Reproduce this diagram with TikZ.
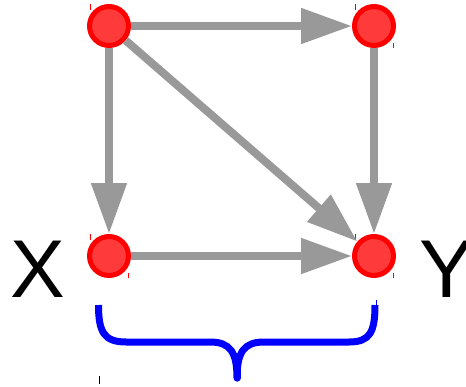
\documentclass[tikz,border=0pt]{standalone}
\usepackage{fontspec}
\setmainfont{Liberation Sans}
\usetikzlibrary{arrows.meta}
\definecolor{nodered}{RGB}{255,0,0}
\definecolor{nodefill}{RGB}{255,58,58}
\definecolor{edgegray}{RGB}{153,153,153}
\definecolor{braceblue}{RGB}{0,0,255}
\begin{document}
\begin{tikzpicture}[x=1pt,y=-1pt,
  vertex/.style={circle,draw=nodered,fill=nodefill,line width=5pt,
    minimum size=39pt,inner sep=0pt},
  edge/.style={draw=edgegray,line width=8pt,
    -{Triangle[length=51pt,width=34pt]}},
  letter/.style={font=\fontsize{82}{82}\selectfont,inner sep=0pt,anchor=base},
  hairline/.style={line width=1pt}]
\useasboundingbox (0,0) rectangle (466,386);

% vertices
\node[vertex] (tl) at (109,26) {};
\node[vertex] (tr) at (374,26) {};
\node[vertex] (bl) at (109,256) {};
\node[vertex] (br) at (374,256) {};

% small corner marks beside each vertex
\foreach \v in {tl,tr,bl,br}{
  \draw[nodered,hairline] ([shift={(-18.5,-22)}]\v.center) -- ++(0,6);
  \draw[nodered,hairline] ([shift={(19,17)}]\v.center) -- ++(0,5);
}

% directed edges
\draw[edge] (tl) -- (tr);
\draw[edge] (tl) -- (bl);
\draw[edge] (tl) -- (br);
\draw[edge] (tr) -- (br);
\draw[edge] (bl) -- (br);

% labels
\node[letter] (lx) at (38,297) {X};
\node[letter] (ly) at (447,297) {Y};

% brace under the bottom row
\draw[braceblue,line width=7pt,line join=round]
  (98.5,305) .. controls (98.5,332) and (104,342) .. (126,342)
  -- (210,342) .. controls (230,342) and (237,352) .. (237,378)
  .. controls (237,352) and (244,342) .. (264,342)
  -- (349,342) .. controls (370,342) and (375,332) .. (375,305);
\draw[braceblue,line width=7pt,line cap=round] (237,370) -- (237,378);
\draw[braceblue,hairline] (376,300) -- (376,305);
\draw[black,hairline] (99,376) -- (99,384);
\end{tikzpicture}
\end{document}
